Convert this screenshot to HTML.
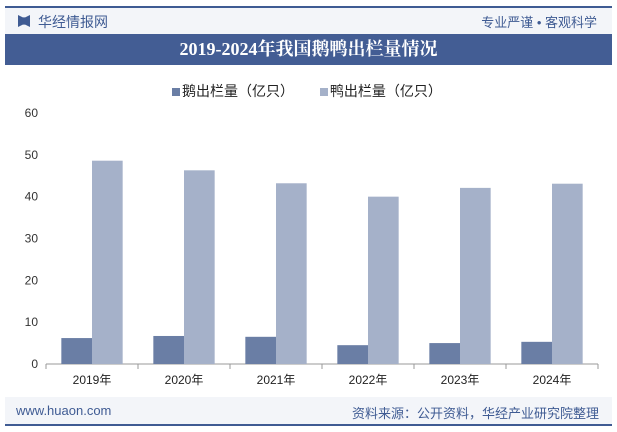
<!DOCTYPE html>
<html><head><meta charset="utf-8"><style>
body{margin:0;width:617px;height:432px;background:#fff;font-family:"Liberation Sans","Noto Sans CJK SC",sans-serif;overflow:hidden;position:relative}
.abs{position:absolute}
</style></head><body>
<div class="abs" style="left:5px;top:6px;width:607px;height:2px;background:#3f5b93"></div>
<div class="abs" style="left:5px;top:8px;width:607px;height:26px;background:#f3f5f9"></div>
<div class="abs" style="left:18px;top:15px;width:12px;height:12px;background:#3f5b93;clip-path:polygon(0 0,40% 20%,60% 20%,100% 0,100% 100%,60% 80%,40% 80%,0 100%)"></div>
<div class="abs" style="left:38px;top:12px;font-size:14px;color:#3f5b93">华经情报网</div>
<div class="abs" style="right:20px;top:12px;font-size:13px;color:#3f5b93">专业严谨 • 客观科学</div>
<div class="abs" style="left:5px;top:34px;width:607px;height:31px;background:#435d94;color:#fff;font-family:'Liberation Serif','Noto Serif CJK SC',serif;font-weight:bold;font-size:18px;text-align:center;line-height:31px">2019-2024年我国鹅鸭出栏量情况</div>
<div class="abs" style="left:172px;top:81px;font-size:14px;color:#222;white-space:nowrap">
<span><span style="display:inline-block;width:8px;height:8px;background:#6a7ea5;margin-right:2px"></span>鹅出栏量（亿只）</span>
<span style="margin-left:22px"><span style="display:inline-block;width:8px;height:8px;background:#a5b1c9;margin-right:2px"></span>鸭出栏量（亿只）</span>
</div>
<svg class="abs" style="left:0;top:0" width="617" height="432">
<g id="plot"></g>
</svg>
<div class="abs" style="left:5px;top:397px;width:607px;height:27px;background:#f3f5f9"></div>
<div class="abs" style="left:16px;top:403px;font-size:13px;color:#3f5b93">www.huaon.com</div>
<div class="abs" style="right:18px;top:403px;font-size:13px;color:#3f5b93">资料来源：公开资料，华经产业研究院整理</div>
<div class="abs" style="left:5px;top:424px;width:607px;height:2px;background:#3f5b93"></div>
<script>
const categories=["2019年","2020年","2021年","2022年","2023年","2024年"];
const gooseValues=[6.2,6.7,6.5,4.5,5.0,5.3];
const duckValues=[48.6,46.3,43.2,40.0,42.1,43.1];
const yTicks=[0,10,20,30,40,50,60];
const g=document.getElementById('plot');
const NS='http://www.w3.org/2000/svg';
const x0=46,x1=598,y0=364,yTop=113,ymax=60;
const bw=(x1-x0)/categories.length;
const y=v=>y0-(v/ymax)*(y0-yTop);
function mk(t,a){const e=document.createElementNS(NS,t);for(const k in a)e.setAttribute(k,a[k]);g.appendChild(e);return e;}
yTicks.forEach(v=>{const t=mk('text',{x:x0-8,y:y(v)+4,'text-anchor':'end','font-size':12,fill:'#333'});t.textContent=v;

});
const ax=mk('line',{x1:x0,y1:y0,x2:x1,y2:y0,stroke:'#999'});


for(let i=0;i<=categories.length;i++){const tk=mk('line',{x1:x0+i*bw,y1:y0,x2:x0+i*bw,y2:y0+5,stroke:'#999'});

}
categories.forEach((c,i)=>{const cx=x0+bw*(i+0.5),w=bw/3;
const r1=mk('rect',{x:cx-w,y:y(gooseValues[i]),width:w,height:y0-y(gooseValues[i]),fill:'#6a7ea5'});


const r2=mk('rect',{x:cx,y:y(duckValues[i]),width:w,height:y0-y(duckValues[i]),fill:'#a5b1c9'});


const t=mk('text',{x:cx,y:y0+20,'text-anchor':'middle','font-size':12,fill:'#222'});t.textContent=c;

});
</script>
</body></html>
